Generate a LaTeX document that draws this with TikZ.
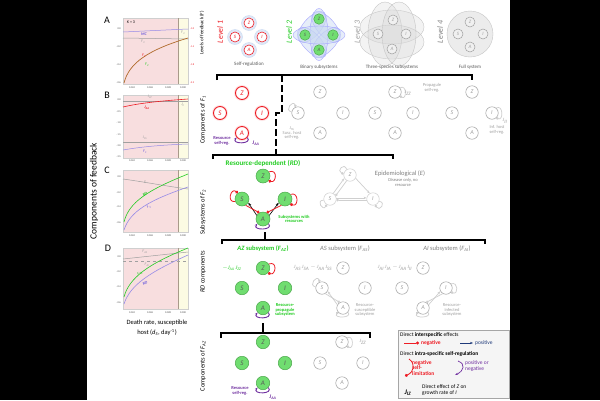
\documentclass[tikz,border=0pt]{standalone}
\usepackage{fontspec}
\setmainfont{Carlito}
\usetikzlibrary{arrows.meta,shapes.geometric}
\definecolor{myred}{HTML}{EE1C24}
\definecolor{mygreen}{HTML}{22CC22}
\definecolor{gfill}{HTML}{70DD70}
\definecolor{gborder}{HTML}{4CA84C}
\definecolor{mypurple}{HTML}{7030A0}
\definecolor{mygray}{HTML}{A0A0A0}
\definecolor{lgray}{HTML}{CFCFCF}
\definecolor{dgray}{HTML}{595959}
\definecolor{pinkbg}{HTML}{F8DEDF}
\definecolor{yellowbg}{HTML}{FCFBE3}
\definecolor{mcblue}{HTML}{6A5ADC}
\definecolor{navy}{HTML}{1F3A7A}
\definecolor{halo}{HTML}{C9D9F2}
\definecolor{cbrown}{HTML}{B06A2A}
\definecolor{vline}{HTML}{A89A8A}
\newcommand{\myJ}[1]{\textit{J}\textsubscript{\textit{#1}}}
\newcommand{\myF}[1]{\textit{F}\textsubscript{\textit{#1}}}
\newcommand{\fs}[1]{\fontsize{#1}{#1}\selectfont}
\newcommand{\plotbg}[2]{%
  \fill[pinkbg] (123,#1) rectangle (178,#2);
  \fill[yellowbg] (178,#1) rectangle (188,#2);
  \draw[lgray,line width=0.3pt] (123,#1) rectangle (188,#2);
  \draw[vline,line width=0.6pt] (178,#1) -- (178,#2);}
\newcommand{\xticks}[2]{%
  \foreach \x/\t [count=\i] in {132/0.024,150/0.026,168/0.028,183/0.030}
    \node[ticklab] (#1\i) at (\x,#2) {\t};}
\tikzset{
 nd/.style={circle, inner sep=0pt, minimum size=12.5pt, font=\fs{6}\itshape, line width=0.5pt},
 rnd/.style={nd, draw=myred, fill=white, text=myred, line width=0.9pt, minimum size=13pt, font=\fs{7}\itshape},
 rhalo/.style={circle, inner sep=0pt, minimum size=16pt, fill=myred!12, draw=none},
 gnd/.style={nd, draw=gborder, fill=gfill, text=black!65, minimum size=13.5pt, font=\fs{7}\itshape},
 ynd/.style={nd, draw=mygray, fill=white, text=mygray},
 lab/.style={inner sep=0pt, align=center, font=\fs{5}},
 plab/.style={inner sep=0pt, font=\fs{4}},
 rlab/.style={inner sep=0pt, rotate=90, font=\fs{6.5}},
 ticklab/.style={inner sep=0pt, font=\fs{2.6}, text=black!70},
 negarr/.style={myred, line width=0.8pt, -{Circle[length=3pt]}},
 posarr/.style={black, line width=0.6pt, -{Stealth[length=3.5pt]}},
 slfarr/.style={mypurple, line width=0.9pt, -{Stealth[length=3pt]}},
 gposarr/.style={lgray, line width=0.7pt, -{Stealth[length=3pt]}},
 gnegarr/.style={lgray, line width=0.7pt, -{Circle[length=2.5pt]}},
 brk/.style={black, line width=1.1pt},
 bell/.style={ellipse, inner sep=0pt, fill=halo, fill opacity=0.45, draw=blue!35, line width=0.4pt},
 gell/.style={ellipse, inner sep=0pt, fill=gray!30, fill opacity=0.3, draw=gray!45, line width=0.4pt},
}
\begin{document}
\begin{tikzpicture}[x=1pt,y=-1pt]
\useasboundingbox (0,0) rectangle (600,400);
\fill[black] (0,0) rectangle (600,400);
\fill[white] (87,0) rectangle (510,400);

% ================= left panels
\node[rlab, font=\fs{9.5}] (cfb) at (94,191) {Components of feedback};
\node[font=\fs{10}, inner sep=0pt] (pA) at (107,20) {A};
\node[font=\fs{10}, inner sep=0pt] (pB) at (107,95) {B};
\node[font=\fs{10}, inner sep=0pt] (pC) at (107,170) {C};
\node[font=\fs{10}, inner sep=0pt] (pD) at (108,248) {D};

% --- plot A
\plotbg{18}{84}
\foreach \y/\t [count=\i] in {29/0.0,47/-0.2,65/-0.4,83/-0.6} \node[ticklab,anchor=east] (ya\i) at (121,\y) {\t};
\foreach \y/\t [count=\i] in {29/-1.0,47/-1.4,65/-1.8,83/-2.2} \node[ticklab,anchor=west,text=myred] (ra\i) at (190,\y) {\t};
\xticks{xa}{88}
\draw[mcblue!70, line width=0.5pt] (123,32) .. controls (145,31) and (165,30) .. (188,29);
\draw[mygray, line width=0.5pt] (123,38) -- (188,39);
\draw[cbrown, line width=0.7pt] (124,83) .. controls (129,63) and (148,50) .. (188,38);
\node[plab] (kA) at (131,22) {\textit{K} = 3};
\node[plab, text=mcblue, font=\fs{4}\bfseries\itshape] (mcA) at (144,34) {MC};
\node[plab, text=mygray] (f4A) at (183,33) {\myF{4}};
\node[plab, text=mygray] (f3A) at (143,42) {\myF{3}};
\node[plab, text=myred] (f1A) at (144,56) {\myF{1}};
\node[plab, text=mygreen] (f2A) at (147,65) {\myF{2}};

% --- plot B
\plotbg{95}{158}
\foreach \y/\t [count=\i] in {100/0.0,112/-0.5,123/-1.0,135/-1.5,146/-2.0,157/-2.5} \node[ticklab,anchor=east] (yb\i) at (121,\y) {\t};
\xticks{xb}{161}
\draw[mygray, line width=0.5pt] (123,101) -- (188,101);
\draw[myred, line width=0.6pt] (123,107) .. controls (140,103) and (160,101) .. (188,99);
\draw[mygray, line width=0.5pt] (123,142) -- (188,142);
\draw[mcblue!70, line width=0.5pt] (123,150) .. controls (140,147) and (160,145) .. (188,144);
\node[plab, text=mygray] (jzzB) at (150,97) {\myJ{ZZ}};
\node[plab, text=myred, font=\fs{4}\bfseries] (jaaB) at (147,108) {\myJ{AA}};
\node[plab, text=mygray] (jiiB) at (183,105) {\myJ{II}};
\node[plab, text=mygray] (jssB) at (145,138) {\myJ{SS}};
\node[plab, text=mcblue] (f1B) at (145,152) {\myF{1}};

% --- plot C
\plotbg{170}{232}
\foreach \y/\t [count=\i] in {177/0.0,193/-0.2,207/-0.4,223/-0.6} \node[ticklab,anchor=east] (yc\i) at (121,\y) {\t};
\xticks{xc}{236}
\draw[mygray, line width=0.5pt] (123,179) .. controls (145,182) and (165,186) .. (188,189);
\draw[mygreen, line width=0.6pt] (124,222) .. controls (129,202) and (148,190) .. (188,174);
\draw[mcblue!70, line width=0.6pt] (124,230) .. controls (130,211) and (150,200) .. (188,187);
\node[plab, text=mygray] (eC) at (145,182) {\textit{E}};
\node[plab, text=mygreen, rotate=35, font=\fs{4}\bfseries\itshape] (rdC) at (145,194) {RD};
\node[plab, text=mcblue, rotate=30] (f2C) at (149,207) {\myF{2}};

% --- plot D
\plotbg{248}{309}
\foreach \y/\t [count=\i] in {257/0.0,272/-0.2,287/-0.4,303/-0.6} \node[ticklab,anchor=east] (yd\i) at (121,\y) {\t};
\xticks{xd}{313}
\draw[mygray, line width=0.5pt] (123,259) -- (188,252);
\draw[mygray, line width=0.5pt, dashed] (123,261) -- (188,261);
\draw[mygreen, line width=0.6pt] (124,297) .. controls (129,278) and (148,264) .. (188,248);
\draw[mcblue!70, line width=0.6pt] (124,304) .. controls (130,285) and (150,272) .. (188,255);
\node[plab, text=mygray] (fasD) at (145,252) {\myF{AS}};
\node[plab, text=mygray] (faiD) at (147,265) {\myF{AI}};
\node[plab, text=mygreen, rotate=30] (fazD) at (140,273) {\myF{AZ}};
\node[plab, text=mcblue, rotate=30, font=\fs{4}\bfseries\itshape] (rdD) at (145,283) {RD};
\node[inner sep=0pt, align=center, font=\fontsize{6.5}{10}\selectfont] (xt) at (157,328) {Death rate, susceptible\\host (\textit{d}\textsubscript{\textit{S}}, day\textsuperscript{-1})};

% ================= levels row
\node[rlab, font=\fs{5}] (lvlF) at (202,33) {Levels of feedback (\textit{F})};
\node[rlab, font=\fs{8}\itshape, text=myred] (L1) at (220,32) {Level 1};
\node[rlab, font=\fs{8}\itshape, text=mygreen] (L2) at (289,32) {Level 2};
\node[rlab, font=\fs{8}\itshape, text=mygray] (L3) at (357,32) {Level 3};
\node[rlab, font=\fs{8}\itshape, text=gray] (L4) at (440,32) {Level 4};

\foreach \n/\x/\y in {Z/249/23,S/235/37,I/262/37,A/249/50}{
  \node[circle, fill=halo!60, draw=halo, minimum size=15pt, inner sep=0pt, line width=0.4pt] (h1\n) at (\x,\y) {};
  \node[rnd, minimum size=10pt, font=\fs{5}\itshape, line width=0.6pt] (l1\n) at (\x,\y) {\n};}
\node[lab, text=dgray] (t1) at (249,64) {Self-regulation};

\node[bell, minimum width=38pt, minimum height=18pt, rotate=49] (e1) at (312,27) {};
\node[bell, minimum width=38pt, minimum height=18pt, rotate=-49] (e2) at (326,27) {};
\node[bell, minimum width=38pt, minimum height=18pt, rotate=-47] (e3) at (312,42.5) {};
\node[bell, minimum width=38pt, minimum height=18pt, rotate=47] (e4) at (326,42.5) {};
\node[bell, minimum width=52pt, minimum height=18pt, rotate=90] (e5) at (319,34.5) {};
\node[bell, minimum width=52pt, minimum height=18pt] (e6) at (319,35) {};
\foreach \n/\x/\y in {Z/319/19,S/305/35,I/333/35,A/319/50}
  \node[gnd, minimum size=10.5pt, font=\fs{5}\itshape] (l2\n) at (\x,\y) {\n};
\node[lab, text=dgray] (t2) at (319,67) {Binary subsystems};

\node[gell, minimum width=64pt, minimum height=34pt] (g1) at (392,27) {};
\node[gell, minimum width=64pt, minimum height=34pt] (g2) at (392,42) {};
\node[gell, minimum width=34pt, minimum height=64pt] (g3) at (385,34) {};
\node[gell, minimum width=34pt, minimum height=64pt] (g4) at (399,34) {};
\foreach \n/\x/\y in {Z/393/20,S/378/34,I/406/34,A/392/49}
  \node[ynd, minimum size=10pt, font=\fs{5}\itshape, fill=gray!12] (l3\n) at (\x,\y) {\n};
\node[lab, text=dgray] (t3) at (392,67) {Three-species subsystems};

\node[circle, fill=gray!15, draw=gray!45, minimum size=46pt, inner sep=0pt] (full) at (470,34) {};
\foreach \n/\x/\y in {Z/470/22,S/458/34,I/483/34,A/470/47}
  \node[ynd, minimum size=10pt, font=\fs{5}\itshape, fill=gray!12] (l4\n) at (\x,\y) {\n};
\node[lab, text=dgray] (t4) at (470,67) {Full system};

% bracket 1
\coordinate (b1a) at (217,80); \coordinate (b1b) at (217,75);
\coordinate (b1c) at (472,75); \coordinate (b1d) at (472,80);
\draw[brk] (b1a) -- (b1b) -- (b1c) -- (b1d);
\coordinate (d1) at (282,75); \coordinate (d2) at (282,113);
\coordinate (d3) at (276,113); \coordinate (d4) at (276,155);
\draw[brk, dash pattern=on 7pt off 3pt] (d1) -- (d2) -- (d3) -- (d4);

% ================= F1 components
\node[rlab] (lF1) at (203,120) {Components of \myF{1}};
\foreach \n/\x/\y in {Z/242/93,S/220/113,I/262/113,A/242/133}{
  \node[rhalo] (fh\n) at (\x,\y) {};
  \node[rnd] (f\n) at (\x,\y) {\n};}
\draw[slfarr] (fA.-40) .. controls +(-50:9pt) and +(-130:9pt) .. (fA.-140);
\node[lab, text=mypurple, font=\fs{4.5}\bfseries] (rsr1) at (222,141) {Resource\\self-reg.};
\node[lab, text=mypurple, font=\fs{5.5}\bfseries] (jaa1) at (256,143) {\myJ{AA}};

\node[ynd] (g2Z) at (320,92) {Z};
\node[ynd] (g2S) at (298,113) {S};
\node[ynd] (g2I) at (343,113) {I};
\node[ynd] (g2A) at (320,133) {A};
\draw[gnegarr] (g2S.170) .. controls +(170:8pt) and +(110:8pt) .. (g2S.110);
\node[lab, text=mygray, font=\fs{4.5}] (jss1) at (292,133) {\myJ{SS}\\Susc. host\\self-reg.};

\node[ynd] (g3Z) at (395,92) {Z};
\node[ynd] (g3S) at (375,113) {S};
\node[ynd] (g3I) at (413,113) {I};
\node[ynd] (g3A) at (395,133) {A};
\draw[gnegarr] (g3Z.40) .. controls +(30:8pt) and +(-30:8pt) .. (g3Z.-40);
\node[lab, text=mygray, font=\fs{5}] (jzz1) at (408,93) {\myJ{ZZ}};
\node[lab, text=mygray, font=\fs{4.5}] (psr1) at (432,88) {Propagule\\self-reg.};

\node[ynd] (g4Z) at (472,92) {Z};
\node[ynd] (g4S) at (452,113) {S};
\node[ynd] (g4I) at (492,113) {I};
\node[ynd] (g4A) at (472,133) {A};
\draw[gnegarr] (g4I.50) .. controls +(30:8pt) and +(-20:8pt) .. (g4I.-50);
\node[lab, text=mygray, font=\fs{5}] (jii1) at (505,121) {\myJ{II}};
\node[lab, text=mygray, font=\fs{4.5}] (ihs1) at (497,130) {Inf. host\\self-reg.};

% ================= F2 subsystems
\coordinate (b2a) at (213,159); \coordinate (b2b) at (213,155);
\coordinate (b2c) at (393,155); \coordinate (b2d) at (393,159);
\draw[brk] (b2a) -- (b2b) -- (b2c) -- (b2d);
\node[rlab] (lF2) at (203,212) {Subsystems of \myF{2}};
\node[lab, text=mygreen, font=\fs{7}\bfseries] (rdt) at (263,163) {Resource-dependent (\textit{RD})};
\node[gnd, minimum size=14pt] (rZ) at (263,176) {Z};
\node[gnd, minimum size=14pt] (rS) at (242,199) {S};
\node[gnd, minimum size=14pt] (rI) at (285,199) {I};
\node[gnd, minimum size=14pt] (rA) at (263,219) {A};
\draw[negarr] (rZ.35) .. controls +(20:10pt) and +(-20:8pt) .. (rZ.-40);
\draw[negarr] (rS.200) .. controls +(190:9pt) and +(140:9pt) .. (rS.125);
\draw[negarr] (rI.40) .. controls +(20:9pt) and +(-20:9pt) .. (rI.-45);
\draw[posarr] (rA.150) -- (rS.-30);
\draw[negarr] (rS.-60) -- (rA.120);
\draw[posarr] (rA.30) -- (rI.-150);
\draw[negarr] (rI.-120) -- (rA.60);
\draw[slfarr] (rA.-40) .. controls +(-50:9pt) and +(-130:9pt) .. (rA.-140);
\node[lab, text=mygreen, font=\fs{4.5}\bfseries] (swr) at (294,219) {Subsystems with\\resources};

\node[ynd, draw=lgray, text=mygray] (eZ) at (350,175) {Z};
\node[ynd, draw=lgray, text=mygray] (eS) at (330,199) {S};
\node[ynd, draw=lgray, text=mygray] (eI) at (373,199) {I};
\draw[gposarr] (eS.60) -- (eZ.-150);
\draw[gnegarr] (eZ.-120) -- (eS.30);
\draw[gposarr] (eZ.-30) -- (eI.120);
\draw[gposarr] (eS.10) -- (eI.170);
\draw[gnegarr] (eI.-170) -- (eS.-10);
\draw[gnegarr] (eZ.120) .. controls +(110:8pt) and +(160:8pt) .. (eZ.170);
\draw[gnegarr] (eS.190) .. controls +(180:8pt) and +(240:8pt) .. (eS.240);
\draw[gnegarr] (eI.-20) .. controls +(-10:8pt) and +(-60:8pt) .. (eI.-70);
\node[lab, text=gray, font=\fs{6.5}] (ept) at (400,174) {Epidemiological (\textit{E})};
\node[lab, text=gray, font=\fs{4.5}] (eps) at (403,182.5) {Disease only, no\\resource};

% bracket F2 components
\coordinate (b3a) at (222,244); \coordinate (b3b) at (222,240);
\coordinate (b3c) at (485,240); \coordinate (b3d) at (485,244);
\coordinate (b3t) at (265,232); \coordinate (b3m) at (265,240);
\draw[brk] (b3a) -- (b3b) -- (b3c) -- (b3d);
\draw[brk] (b3t) -- (b3m);
\node[lab, text=mygreen, font=\fs{6.5}\bfseries] (azt) at (263,249) {\textit{AZ} subsystem (\myF{AZ})};
\node[lab, text=gray, font=\fs{6.5}] (ast) at (345,249) {\textit{AS} subsystem (\myF{AS})};
\node[lab, text=gray, font=\fs{6.5}] (ait) at (447,249) {\textit{AI} subsystem (\myF{AI})};

% ================= RD components
\node[rlab] (lRD) at (203,272) {\textit{RD} components};
\node[gnd] (cZ) at (263,268) {Z};
\node[gnd] (cS) at (242,288) {S};
\node[gnd] (cI) at (285,288) {I};
\node[gnd] (cA) at (263,308) {A};
\draw[negarr] (cZ.35) .. controls +(20:10pt) and +(-20:8pt) .. (cZ.-45);
\draw[slfarr] (cA.-40) .. controls +(-50:9pt) and +(-130:9pt) .. (cA.-140);
\node[lab, text=mygreen, font=\fs{5.5}] (jj1) at (232,268) {$-$\myJ{AA}\,\myJ{ZZ}};
\node[lab, text=mygreen, font=\fs{4.5}\bfseries] (rps) at (285,310) {Resource-\\propagule\\subsystem};

\node[ynd] (sZ) at (343,268) {Z};
\node[ynd] (sS) at (322,288) {S};
\node[ynd] (sI) at (365,288) {I};
\node[ynd] (sA) at (343,308) {A};
\draw[gnegarr] (sS.170) .. controls +(170:8pt) and +(110:8pt) .. (sS.110);
\draw[gposarr] (sA.150) -- (sS.-30);
\draw[gnegarr] (sS.-60) -- (sA.120);
\draw[gnegarr] (sA.-40) .. controls +(-50:8pt) and +(-130:8pt) .. (sA.-140);
\node[lab, text=mygray, font=\fs{5}] (jj2) at (313,268) {\myJ{AS}\,\myJ{SA} $-$ \myJ{AA}\,\myJ{SS}};
\node[lab, text=mygray, font=\fs{4.5}] (rss) at (365,310) {Resource-\\susceptible\\subsystem};

\node[ynd] (iZ) at (423,268) {Z};
\node[ynd] (iS) at (402,288) {S};
\node[ynd] (iI) at (446,288) {I};
\node[ynd] (iA) at (423,308) {A};
\draw[gnegarr] (iI.40) .. controls +(20:8pt) and +(-20:8pt) .. (iI.-40);
\draw[gposarr] (iA.30) -- (iI.-150);
\draw[gnegarr] (iI.-120) -- (iA.60);
\draw[gnegarr] (iA.-40) .. controls +(-50:8pt) and +(-130:8pt) .. (iA.-140);
\node[lab, text=mygray, font=\fs{5}] (jj3) at (395,268) {\myJ{AI}\,\myJ{IA} $-$ \myJ{AA}\,\myJ{II}};
\node[lab, text=mygray, font=\fs{4.5}] (ris) at (452,310) {Resource-\\infected\\subsystem};

% bracket F_AZ
\coordinate (b4a) at (221,338); \coordinate (b4b) at (221,333);
\coordinate (b4c) at (370,333); \coordinate (b4d) at (370,338);
\coordinate (b4t) at (263,323); \coordinate (b4m) at (263,333);
\draw[brk] (b4a) -- (b4b) -- (b4c) -- (b4d);
\draw[brk] (b4t) -- (b4m);

% ================= Components of F_AZ
\node[rlab] (lFAZ) at (203,366) {Components of \myF{AZ}};
\node[gnd] (kZ) at (263,342) {Z};
\node[gnd] (kS) at (242,363) {S};
\node[gnd] (kI) at (285,363) {I};
\node[gnd] (kA) at (263,383) {A};
\draw[slfarr] (kA.-40) .. controls +(-50:9pt) and +(-130:9pt) .. (kA.-140);
\node[lab, text=mypurple, font=\fs{4.5}\bfseries] (rsr2) at (240,391) {Resource\\self-reg.};
\node[lab, text=mypurple, font=\fs{5.5}\bfseries] (jaa2) at (273,397) {\myJ{AA}};

\node[ynd] (mZ) at (342,342) {Z};
\node[ynd] (mS) at (320,363) {S};
\node[ynd] (mI) at (363,363) {I};
\node[ynd] (mA) at (342,383) {A};
\draw[gnegarr] (mZ.40) .. controls +(30:8pt) and +(-30:8pt) .. (mZ.-40);
\node[lab, text=mygray, font=\fs{5}] (jzz2) at (363,342) {\myJ{ZZ}};

% ================= legend
\node[draw=gray!70, fill=gray!8, line width=0.8pt, minimum width=111pt, minimum height=68pt, inner sep=0pt] (leg) at (453.5,364) {};
\node[lab, font=\fs{5.5}, anchor=west] (lg1) at (400,335) {Direct \textbf{interspecific} effects};
\coordinate (n1) at (404,343); \coordinate (n2) at (419,343);
\draw[negarr] (n1) -- (n2);
\node[lab, font=\fs{5.5}\bfseries, text=myred, anchor=west] (lgn) at (421,343) {negative};
\coordinate (p1) at (460,343); \coordinate (p2) at (473,343);
\draw[navy, line width=0.7pt, -{Stealth[length=3pt]}] (p1) -- (p2);
\node[lab, font=\fs{5.5}, text=navy, anchor=west] (lgp) at (475,343) {positive};
\node[lab, font=\fs{5.5}, anchor=west] (lg2) at (400,354) {Direct \textbf{intra-specific self-regulation}};
\coordinate (s1) at (409,359); \coordinate (s2) at (405,376);
\draw[negarr] (s1) .. controls (416,364) and (414,372) .. (s2);
\node[lab, font=\fs{5.5}\bfseries, text=myred, anchor=west, align=left] (lgs) at (412,368) {negative\\self-\\limitation};
\coordinate (q1) at (458,361); \coordinate (q2) at (455,375);
\draw[mypurple, line width=0.7pt, -{Stealth[length=3pt]}] (q1) .. controls (466,364) and (464,371) .. (q2);
\node[lab, font=\fs{5.5}, text=mypurple, anchor=west, align=left] (lgq) at (465,366) {positive or\\negative};
\node[lab, font=\fs{7}\bfseries] (lgj) at (408,393) {\myJ{IZ}};
\node[lab, font=\fs{5.5}, anchor=west, align=left] (lgd) at (422,390) {Direct effect of \textit{Z} on\\growth rate of \textit{I}};
\end{tikzpicture}
\end{document}
